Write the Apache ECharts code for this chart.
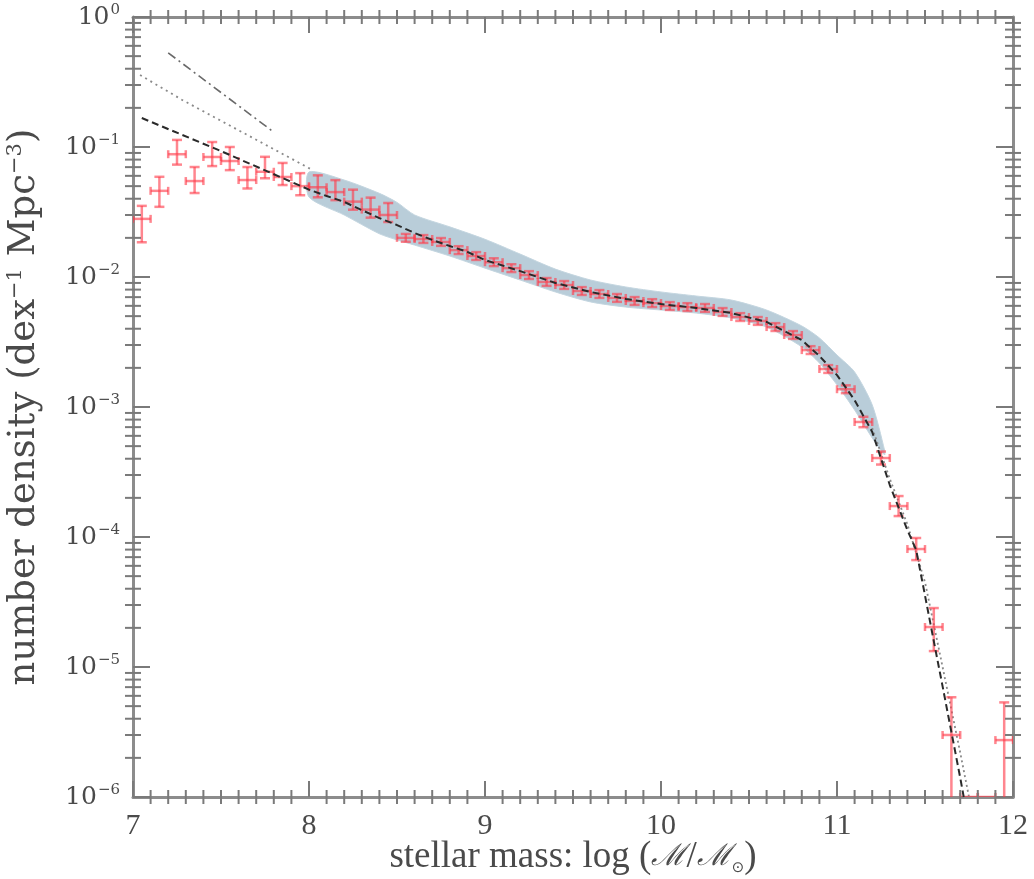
<!DOCTYPE html>
<html><head><meta charset="utf-8">
<script src="https://cdn.jsdelivr.net/npm/echarts@6/dist/echarts.min.js"></script>
<style>html,body{margin:0;padding:0;background:#fff}#c{width:1034px;height:879px}</style>
</head><body><div id="c"></div>
<script>
// ---------------- data ----------------
const massBins = [7.05,7.15,7.25,7.35,7.45,7.55,7.65,7.75,7.85,7.95,
  8.05,8.15,8.25,8.35,8.45,8.55,8.65,8.75,8.85,8.95,
  9.05,9.15,9.25,9.35,9.45,9.55,9.65,9.75,9.85,9.95,
  10.05,10.15,10.25,10.35,10.45,10.55,10.65,10.75,10.85,10.95,
  11.05,11.15,11.25,11.35,11.45,11.55,11.65,11.75,11.85,11.95];
const density = [0.028,0.046,0.088,0.0547,0.0838,0.078,0.0557,0.0645,0.0588,0.050,
  0.049,0.045,0.038,0.033,0.030,0.0200,0.0196,0.0186,0.0161,0.0145,
  0.0130,0.0117,0.01035,0.00916,0.00868,0.0078,0.0074,0.0069,0.00654,0.0063,
  0.00598,0.00587,0.00578,0.00538,0.00492,0.00459,0.00412,0.00358,0.00274,0.00196,
  0.00137,7.67e-4,4.05e-4,1.73e-4,8.08e-5,2.03e-5,3.0e-6,1.0e-6,1.0e-6,2.74e-6];
// error bar sizes in dex (upper / lower)
const errUpDex = [0.10,0.108,0.11,0.108,0.115,0.108,0.10,0.115,0.108,0.10,
  0.092,0.092,0.092,0.092,0.092,0.03,0.03,0.03,0.03,0.03,
  0.03,0.03,0.03,0.03,0.03,0.03,0.03,0.03,0.03,0.03,
  0.03,0.03,0.03,0.03,0.03,0.03,0.03,0.03,0.03,0.03,
  0.03,0.04,0.05,0.077,0.085,0.146,0.29,0,0,0.29];
const errDownDex = [0.18,0.123,0.08,0.092,0.07,0.07,0.065,0.05,0.062,0.07,
  0.077,0.062,0.062,0.062,0.054,0.03,0.03,0.03,0.03,0.03,
  0.03,0.03,0.03,0.03,0.03,0.03,0.03,0.03,0.03,0.03,
  0.03,0.03,0.03,0.03,0.03,0.03,0.03,0.03,0.03,0.03,
  0.03,0.04,0.05,0.077,0.085,0.185,3,0,0,3];
const BIN_HALF = 0.05;

// fitted function (dashed black)
const fitMass = [7.05,7.5,8.0,8.1,8.2,8.3,8.4,8.5,8.6,8.7,8.8,8.9,9.0,9.2,9.4,9.6,9.8,10.0,10.2,10.4,10.6,10.8,10.9,11.0,11.1,11.2,11.3,11.4,11.45,11.5,11.55,11.6,11.65,11.7,11.72];
const fitDensity = [0.167,0.093,0.047,0.0420,0.0378,0.0327,0.0284,0.0251,0.0218,0.0193,0.0173,0.0156,0.0135,0.0111,0.0090,0.00767,0.00678,0.00619,0.00578,0.00528,0.00451,0.00327,0.00247,0.00176,0.00113,6.43e-4,2.51e-4,1.13e-4,7.94e-5,3.55e-5,1.58e-5,7.1e-6,3.16e-6,1.41e-6,1.0e-6];

// dotted companion at the high-mass end
const dotHiMass = [11.2,11.3,11.4,11.5,11.6,11.7,11.75];
const dotHiDensity = [6.9e-4,2.8e-4,1.25e-4,4.5e-5,1.0e-5,2.2e-6,1.0e-6];

// low-mass extrapolations
const dotLoMass = [7.04,7.28,8.02];
const dotLoDensity = [0.358,0.230,0.0665];
const dashDotMass = [7.2,7.8];
const dashDotDensity = [0.53,0.13];

// shaded uncertainty band
const bandMass = [8.0,8.2,8.4,8.5,8.6,8.8,9.0,9.2,9.4,9.6,9.8,10.0,10.2,10.4,10.6,10.8,10.9,11.0,11.1,11.2,11.27];
const bandTop = [0.0643,0.0557,0.0440,0.0375,0.0300,0.0243,0.0195,0.0150,0.0115,0.00948,0.00838,0.00767,0.00714,0.00665,0.00557,0.00420,0.00340,0.00251,0.00186,1.04e-3,4.67e-4];
const bandBottom = [0.0412,0.0300,0.0215,0.0193,0.0176,0.0145,0.0117,0.00948,0.00767,0.00643,0.00587,0.00557,0.00528,0.00484,0.00412,0.00290,0.00218,0.00148,9.48e-4,5.78e-4,4.28e-4];

// axis ticks
const xMin = 7, xMax = 12;
const yMin = 1e-6, yMax = 1;
const xMinorTicks = [7.1,7.2,7.3,7.4,7.5,7.6,7.7,7.8,7.9,8.1,8.2,8.3,8.4,8.5,8.6,8.7,8.8,8.9,
  9.1,9.2,9.3,9.4,9.5,9.6,9.7,9.8,9.9,10.1,10.2,10.3,10.4,10.5,10.6,10.7,10.8,10.9,
  11.1,11.2,11.3,11.4,11.5,11.6,11.7,11.8,11.9];
const yMinorTicks = [2e-6,3e-6,4e-6,5e-6,6e-6,7e-6,8e-6,9e-6,2e-5,3e-5,4e-5,5e-5,6e-5,7e-5,8e-5,9e-5,
  2e-4,3e-4,4e-4,5e-4,6e-4,7e-4,8e-4,9e-4,2e-3,3e-3,4e-3,5e-3,6e-3,7e-3,8e-3,9e-3,
  0.02,0.03,0.04,0.05,0.06,0.07,0.08,0.09,0.2,0.3,0.4,0.5,0.6,0.7,0.8,0.9];

// ---------------- chart ----------------
const ERR_COLOR = 'rgba(255,60,75,0.62)';
const AXIS_COLOR = '#8c8c8c';
const TICK_COLOR = '#7a7a7a';
const TXT = '#4a4a4a';

const errData = massBins.map((m,i)=>[m, density[i], density[i]/Math.pow(10,errDownDex[i]), density[i]*Math.pow(10,errUpDex[i])]);
function pairs(xs, ys){ return xs.map((x,i)=>[x, ys[i]]); }

const yTickMarkerData = [];
yMinorTicks.forEach(v=>{ yTickMarkerData.push([xMin, v]); yTickMarkerData.push([xMax, v]); });
const xTickMarkerData = [];
xMinorTicks.forEach(v=>{ xTickMarkerData.push([v, yMin]); xTickMarkerData.push([v, yMax]); });

const chart = echarts.init(document.getElementById('c'), null, {renderer:'canvas'});
const lineSeries = (data, color, type, width, z) => ({
  type:'line', data, showSymbol:false, symbol:'none', smooth:false, z,
  lineStyle:{color, type, width}, silent:true, animation:false, clip:true
});

const axisCommonX = {
  type:'value', min:xMin, max:xMax, interval:1,
  axisLine:{onZero:false, lineStyle:{color:AXIS_COLOR, width:3}},
  axisTick:{show:true, inside:true, length:16, lineStyle:{color:TICK_COLOR, width:2}},
  splitLine:{show:false}
};
const axisCommonY = {
  type:'log', logBase:10, min:yMin, max:yMax, splitNumber:6,
  axisLine:{onZero:false, lineStyle:{color:AXIS_COLOR, width:3}},
  axisTick:{inside:true, length:17, lineStyle:{color:TICK_COLOR, width:2}},
  splitLine:{show:false}
};

chart.setOption({
  animation:false,
  backgroundColor:'#fff',
  grid:{left:133, right:21, top:17, bottom:82, containLabel:false, outerBoundsMode:'none'},
  xAxis:[Object.assign({}, axisCommonX, {
    position:'bottom',
    axisLabel:{color:TXT, fontFamily:'Liberation Serif', fontSize:30, margin:14},
    name:'{t|stellar mass: log (}{i|ℳ}{t|/}{i|ℳ}{sub|⊙}{t|)}',
    nameLocation:'middle', nameGap:42, nameMoveOverlap:false,
    nameTextStyle:{rich:{
      t:{fontFamily:'Liberation Serif', fontSize:37, color:TXT},
      i:{fontFamily:'DejaVu Serif', fontStyle:'italic', fontSize:30, color:TXT},
      sub:{fontFamily:'DejaVu Sans', fontSize:15, color:TXT, verticalAlign:'bottom', padding:[10,0,0,0]}
    }}
  }), Object.assign({}, axisCommonX, {position:'top', axisLabel:{show:false}})],
  yAxis:[Object.assign({}, axisCommonY, {
    position:'left',
    axisLabel:{margin:13, formatter:v=>{const e=Math.round(Math.log10(v)); return '{b|10}{s|'+(e<0?'−'+(-e):e)+'}';},
      rich:{b:{fontFamily:'DejaVu Serif', fontSize:25, color:TXT},
            s:{fontFamily:'DejaVu Serif', fontSize:15, color:TXT, verticalAlign:'top', padding:[0,0,13,1]}}},
    name:'{t|number density (dex}{s|−1}{t| Mpc}{s|−3}{t|)}',
    nameLocation:'middle', nameRotate:90, nameGap:90, nameMoveOverlap:false,
    nameTextStyle:{rich:{
      t:{fontFamily:'DejaVu Serif', fontSize:37, color:TXT},
      s:{fontFamily:'DejaVu Serif', fontSize:21, color:TXT, verticalAlign:'top', padding:[0,0,17,0]}
    }}
  }), Object.assign({}, axisCommonY, {position:'right', axisLabel:{show:false}})],
  series:[
    { // shaded band
      type:'custom', z:1, silent:true, clip:true,
      data:[[bandMass[0], bandTop[0]]],
      renderItem:(params, api)=>{
        const top = bandMass.map((m,i)=>api.coord([m, bandTop[i]]));
        const bot = bandMass.map((m,i)=>api.coord([m, bandBottom[i]])).reverse();
        return {type:'polygon', shape:{points:top.concat(bot), smooth:0.25},
          style:{fill:'#b9cdd9', stroke:'#c4d6e0', lineWidth:1}};
      }
    },
    lineSeries(pairs(dashDotMass, dashDotDensity), '#6a6a6a', [9,4,2,4], 1.6, 3),
    lineSeries(pairs(dotLoMass, dotLoDensity), '#8a8a8a', [2,4], 1.8, 3),
    lineSeries(pairs(dotHiMass, dotHiDensity), '#8a8a8a', [2,3], 1.8, 3),
    { // y minor ticks: thin rect symbols centred on the frame edges
      type:'scatter', z:9, silent:true, clip:false,
      data:yTickMarkerData,
      symbol:'rect', symbolSize:[16, 2],
      itemStyle:{color:TICK_COLOR, opacity:1}
    },
    { // x minor ticks: thin rect symbols centred on the frame edges
      type:'scatter', z:9, silent:true, clip:false,
      data:xTickMarkerData,
      symbol:'rect', symbolSize:[2, 14],
      itemStyle:{color:TICK_COLOR, opacity:1}
    },
    { // error bars
      type:'custom', z:6, silent:true, clip:true,
      data:errData,
      renderItem:(params, api)=>{
        const x = api.value(0), y = api.value(1), lo = api.value(2), hi = api.value(3);
        const c = api.coord([x, y]);
        const l = api.coord([x-BIN_HALF, y]);
        const r = api.coord([x+BIN_HALF, y]);
        const st = {stroke:ERR_COLOR, lineWidth:2.5};
        const ch = [
          {type:'line', shape:{x1:l[0], y1:c[1], x2:r[0], y2:c[1]}, style:st},
          {type:'line', shape:{x1:l[0], y1:c[1]-4, x2:l[0], y2:c[1]+4}, style:st},
          {type:'line', shape:{x1:r[0], y1:c[1]-4, x2:r[0], y2:c[1]+4}, style:st}
        ];
        if (hi > y) {
          const t = api.coord([x, hi]);
          ch.push({type:'line', shape:{x1:c[0], y1:c[1], x2:c[0], y2:t[1]}, style:st});
          ch.push({type:'line', shape:{x1:c[0]-5, y1:t[1], x2:c[0]+5, y2:t[1]}, style:st});
        }
        if (lo < y) {
          const b = api.coord([x, lo]);
          ch.push({type:'line', shape:{x1:c[0], y1:c[1], x2:c[0], y2:b[1]}, style:st});
          ch.push({type:'line', shape:{x1:c[0]-5, y1:b[1], x2:c[0]+5, y2:b[1]}, style:st});
        }
        return {type:'group', children:ch};
      }
    },
    lineSeries(pairs(fitMass, fitDensity), '#2a2a2a', [7,4], 2, 8)
  ]
});
</script></body></html>
